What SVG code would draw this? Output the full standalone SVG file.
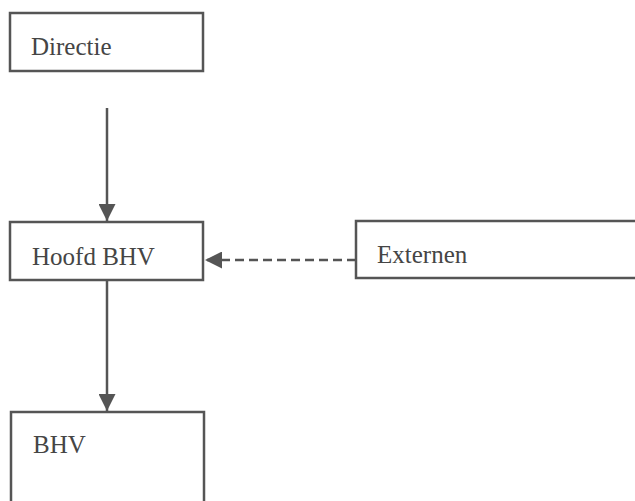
<svg xmlns="http://www.w3.org/2000/svg" width="635" height="501" viewBox="0 0 635 501">
  <style>
    .box { fill: #ffffff; stroke: #555555; stroke-width: 2.5; }
    .lbl { font-family: "Liberation Serif", "Times New Roman", serif; font-size: 25px; fill: #454545; }
    .conn { stroke: #555555; stroke-width: 2.5; fill: none; }
    .dash { stroke-dasharray: 9 5; }
  </style>
  <defs>
    <marker id="arr" viewBox="0 0 17 17" refX="17" refY="8.5" markerWidth="17" markerHeight="17" markerUnits="userSpaceOnUse" orient="auto">
      <path d="M0,0 L17,8.5 L0,17 Z" fill="#555555"/>
    </marker>
  </defs>
  <rect width="635" height="501" fill="#ffffff"/>
  <g id="connectors">
    <line class="conn" x1="107" y1="108" x2="107" y2="221" marker-end="url(#arr)"/>
    <line class="conn" x1="107" y1="281" x2="107" y2="411" marker-end="url(#arr)"/>
    <line class="conn dash" x1="356" y1="260" x2="205" y2="260" marker-end="url(#arr)"/>
  </g>
  <g id="directie">
    <rect class="box" x="10" y="13" width="193" height="58"/>
    <text class="lbl" x="31" y="55">Directie</text>
  </g>
  <g id="hoofd-bhv">
    <rect class="box" x="10" y="222" width="193" height="58"/>
    <text class="lbl" x="32" y="265">Hoofd BHV</text>
  </g>
  <g id="externen">
    <rect class="box" x="356" y="221" width="290" height="57"/>
    <text class="lbl" x="377" y="263">Externen</text>
  </g>
  <g id="bhv">
    <rect class="box" x="11" y="412" width="193" height="110"/>
    <text class="lbl" x="33" y="453">BHV</text>
  </g>
</svg>
